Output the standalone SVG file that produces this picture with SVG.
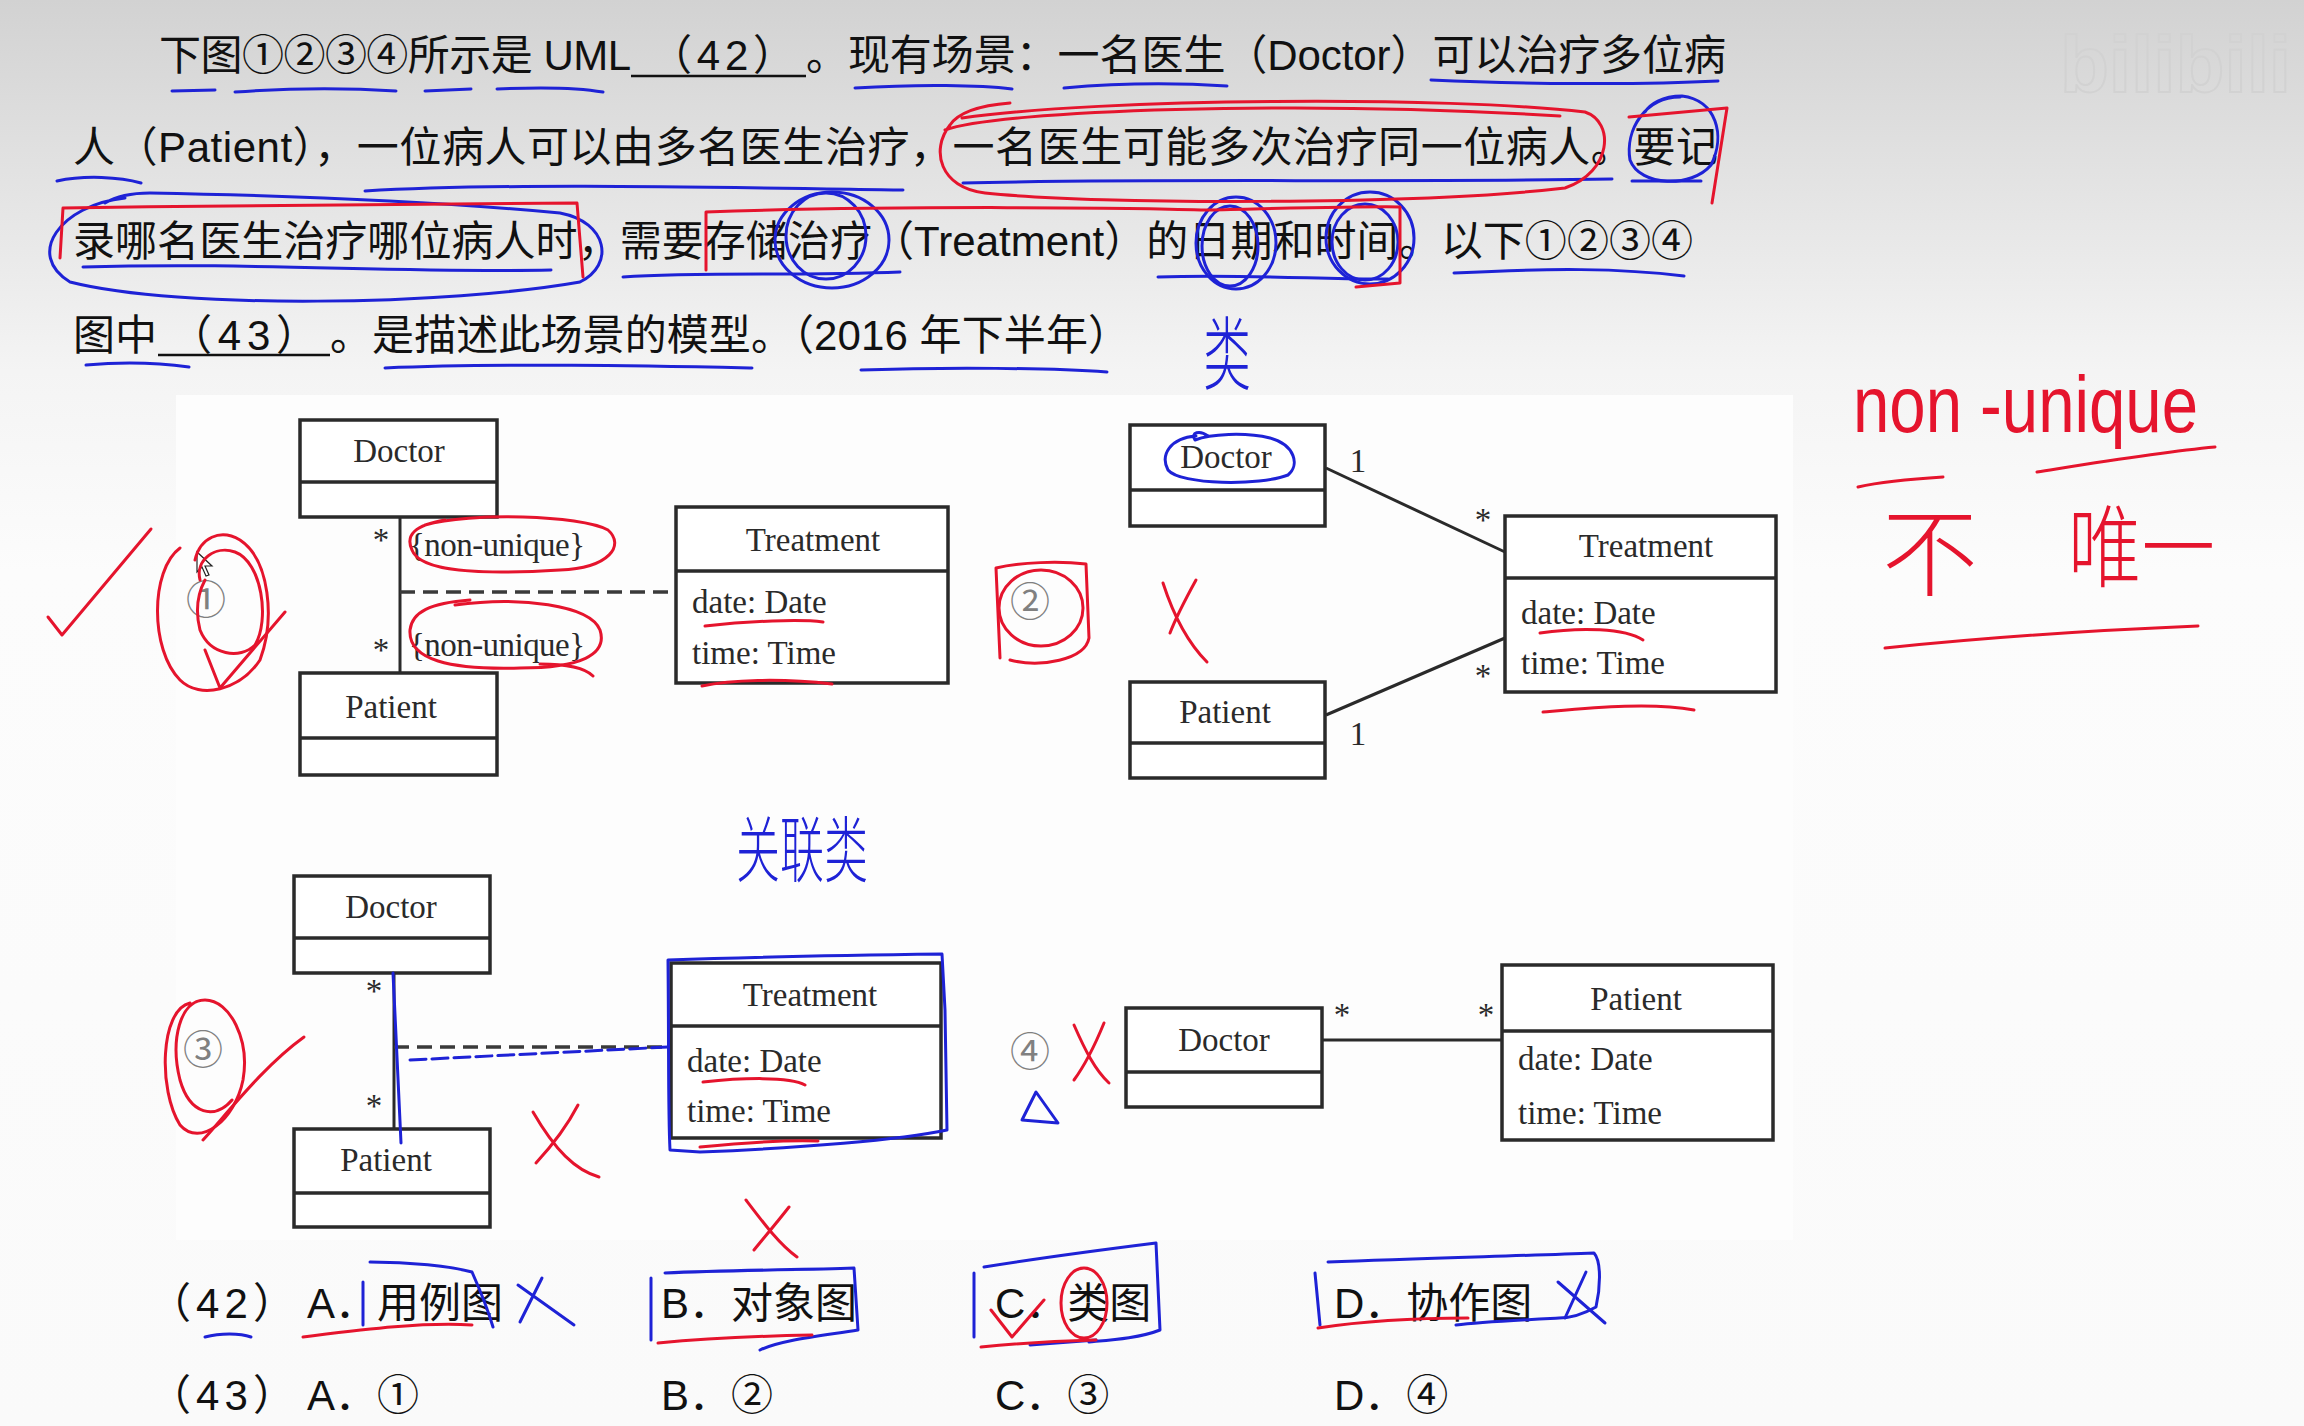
<svg xmlns="http://www.w3.org/2000/svg" width="2304" height="1426" viewBox="0 0 2304 1426">
<defs>
<linearGradient id="bg" x1="0" y1="0" x2="0" y2="1">
<stop offset="0" stop-color="#d2d2d2"/>
<stop offset="0.12" stop-color="#e2e2e2"/>
<stop offset="0.26" stop-color="#f4f4f4"/>
<stop offset="0.4" stop-color="#fcfcfc"/>
<stop offset="1" stop-color="#fafafa"/>
</linearGradient>
<style>
.main{font-family:"Liberation Sans","Noto Sans CJK SC",sans-serif;font-size:42px;fill:#111}
.box{fill:#fff;stroke:#2a2a2a;stroke-width:3.5}
.div{stroke:#2a2a2a;stroke-width:3.5}
.uml{font-family:"Liberation Serif",serif;font-size:33px;fill:#2a2a2a}
.mid{text-anchor:middle}
.edge{stroke:#2a2a2a;stroke-width:3;fill:none}
.dash{stroke:#3a3a3a;stroke-width:3.5;stroke-dasharray:15 8;fill:none}
.num{font-family:"Noto Sans CJK SC",sans-serif;font-size:40px;fill:#808080;text-anchor:middle}
.red{fill:none;stroke:#e5142d;stroke-width:3;stroke-linecap:round;stroke-linejoin:round}
.blue{fill:none;stroke:#1e22d6;stroke-width:3;stroke-linecap:round;stroke-linejoin:round}
.hwr{font-family:"Liberation Sans","Noto Sans CJK SC",sans-serif;fill:#e5142d;font-weight:300}
.hwb{font-family:"Noto Sans CJK SC",sans-serif;fill:#1e22d6;font-weight:300}
.ul{stroke:#111;stroke-width:2.5}
</style>
</defs>
<rect x="0" y="0" width="2304" height="1426" fill="url(#bg)"/>
<rect x="176" y="395" width="1617" height="845" fill="#fdfdfd"/>
<text x="2060" y="92" font-family="Liberation Sans,sans-serif" font-size="80" font-weight="bold" fill="none" stroke="#d2d2d2" stroke-width="2">bilibili</text>

<g id="question">
<text class="main" x="159" y="70" textLength="472">下图①②③④所示是 UML</text>
<line class="ul" x1="631" y1="76" x2="806" y2="76"/>
<text class="main" x="650" y="70" textLength="145">（42）</text>
<text class="main" x="806" y="70" textLength="920">。现有场景：一名医生（Doctor）可以治疗多位病</text>
<text class="main" x="73" y="162" textLength="1645">人（Patient），一位病人可以由多名医生治疗，一名医生可能多次治疗同一位病人。要记</text>
<text class="main" x="73" y="256" textLength="1620">录哪名医生治疗哪位病人时，需要存储治疗（Treatment）的日期和时间。以下①②③④</text>
<text class="main" x="73" y="350" textLength="84">图中</text>
<line class="ul" x1="158" y1="355" x2="330" y2="355"/>
<text class="main" x="170" y="350" textLength="148">（43）</text>
<text class="main" x="330" y="350" textLength="800">。是描述此场景的模型。（2016 年下半年）</text>
</g>

<g id="options">
<text class="main" x="149" y="1318" textLength="146">（42）</text>
<text class="main" x="307" y="1318">A．用例图</text>
<text class="main" x="661" y="1318">B．对象图</text>
<text class="main" x="995" y="1318">C．类图</text>
<text class="main" x="1334" y="1318">D．协作图</text>
<text class="main" x="149" y="1410" textLength="146">（43）</text>
<text class="main" x="307" y="1410">A．①</text>
<text class="main" x="661" y="1410">B．②</text>
<text class="main" x="995" y="1410">C．③</text>
<text class="main" x="1334" y="1410">D．④</text>
</g>

<g id="connectors">
<line class="edge" x1="400" y1="517" x2="400" y2="673"/>
<line class="dash" x1="400" y1="592" x2="676" y2="592"/>
<line class="edge" x1="1326" y1="468" x2="1505" y2="552"/>
<line class="edge" x1="1326" y1="715" x2="1505" y2="638"/>
<line class="edge" x1="394" y1="973" x2="394" y2="1129"/>
<line class="dash" x1="394" y1="1047" x2="671" y2="1047"/>
<line class="edge" x1="1322" y1="1040" x2="1502" y2="1040"/>
</g>

<g id="labels" class="uml">
<text x="381" y="551" class="mid">*</text>
<text x="381" y="661" class="mid">*</text>
<text x="409" y="556" textLength="176">{non-unique}</text>
<text x="409" y="656" textLength="176">{non-unique}</text>
<text x="1358" y="472" class="mid">1</text>
<text x="1483" y="531" class="mid">*</text>
<text x="1483" y="687" class="mid">*</text>
<text x="1358" y="745" class="mid">1</text>
<text x="374" y="1002" class="mid">*</text>
<text x="374" y="1117" class="mid">*</text>
<text x="1342" y="1026" class="mid">*</text>
<text x="1486" y="1026" class="mid">*</text>
</g>

<g id="numbers">
<text class="num" x="206" y="614">①</text>
<text class="num" x="1030" y="616">②</text>
<text class="num" x="203" y="1064">③</text>
<text class="num" x="1030" y="1066">④</text>
</g>

<g id="d1-doctor">
<rect class="box" x="300" y="420" width="197" height="97"/>
<line class="div" x1="300" y1="482" x2="497" y2="482"/>
<text class="uml mid" x="399" y="462">Doctor</text>
</g>
<g id="d1-patient">
<rect class="box" x="300" y="673" width="197" height="102"/>
<line class="div" x1="300" y1="738" x2="497" y2="738"/>
<text class="uml mid" x="391" y="718">Patient</text>
</g>
<g id="d1-treatment">
<rect class="box" x="676" y="507" width="272" height="176"/>
<line class="div" x1="676" y1="571" x2="948" y2="571"/>
<text class="uml mid" x="813" y="551">Treatment</text>
<text class="uml" x="692" y="613">date: Date</text>
<text class="uml" x="692" y="664">time: Time</text>
</g>

<g id="d2-doctor">
<rect class="box" x="1130" y="425" width="195" height="101"/>
<line class="div" x1="1130" y1="490" x2="1325" y2="490"/>
<text class="uml mid" x="1226" y="468">Doctor</text>
</g>
<g id="d2-patient">
<rect class="box" x="1130" y="682" width="195" height="96"/>
<line class="div" x1="1130" y1="743" x2="1325" y2="743"/>
<text class="uml mid" x="1225" y="723">Patient</text>
</g>
<g id="d2-treatment">
<rect class="box" x="1505" y="516" width="271" height="176"/>
<line class="div" x1="1505" y1="578" x2="1776" y2="578"/>
<text class="uml mid" x="1646" y="557">Treatment</text>
<text class="uml" x="1521" y="624">date: Date</text>
<text class="uml" x="1521" y="674">time: Time</text>
</g>

<g id="d3-doctor">
<rect class="box" x="294" y="876" width="196" height="97"/>
<line class="div" x1="294" y1="938" x2="490" y2="938"/>
<text class="uml mid" x="391" y="918">Doctor</text>
</g>
<g id="d3-patient">
<rect class="box" x="294" y="1129" width="196" height="98"/>
<line class="div" x1="294" y1="1193" x2="490" y2="1193"/>
<text class="uml mid" x="386" y="1171">Patient</text>
</g>
<g id="d3-treatment">
<rect class="box" x="671" y="963" width="270" height="175"/>
<line class="div" x1="671" y1="1026" x2="941" y2="1026"/>
<text class="uml mid" x="810" y="1006">Treatment</text>
<text class="uml" x="687" y="1072">date: Date</text>
<text class="uml" x="687" y="1122">time: Time</text>
</g>

<g id="d4-doctor">
<rect class="box" x="1126" y="1008" width="196" height="99"/>
<line class="div" x1="1126" y1="1072" x2="1322" y2="1072"/>
<text class="uml mid" x="1224" y="1051">Doctor</text>
</g>
<g id="d4-patient">
<rect class="box" x="1502" y="965" width="271" height="175"/>
<line class="div" x1="1502" y1="1031" x2="1773" y2="1031"/>
<text class="uml mid" x="1636" y="1010">Patient</text>
<text class="uml" x="1518" y="1070">date: Date</text>
<text class="uml" x="1518" y="1124">time: Time</text>
</g>

<path d="M197,552 L197,572 L202,567 L206,576 L209,575 L205,566 L212,566 Z" fill="#fff" stroke="#222" stroke-width="1.2"/>

<g id="annotations-blue" class="blue">
<path d="M172,91 L215,90 M235,92 C290,88 350,88 396,91 M425,91 L471,89 M497,89 C540,87 580,88 603,92 M855,88 C920,84 980,85 1012,89 M1064,88 C1120,83 1180,83 1227,86 M1431,80 C1520,84 1640,85 1718,81"/>
<path d="M57,181 C85,175 120,177 141,183 M365,191 C500,183 700,187 903,190 M963,183 C1150,178 1400,183 1612,179 M1632,181 L1701,181"/>
<path d="M1680,97 C1645,97 1625,130 1630,160 C1640,187 1692,188 1711,165 C1726,135 1716,100 1682,96 C1662,96 1650,104 1645,112"/>
<path d="M125,198 C60,205 25,255 70,282 C180,310 450,305 580,282 C615,265 608,222 560,213 C420,200 260,195 150,193 C130,193 115,197 105,203"/>
<path d="M83,267 C250,262 400,273 551,270 M623,277 C700,272 800,276 900,272 M1158,277 C1250,274 1330,280 1388,279 M1454,273 C1550,268 1620,268 1684,276"/>
<ellipse cx="832" cy="240" rx="57" ry="48"/>
<ellipse cx="826" cy="236" rx="40" ry="43"/>
<ellipse cx="1236" cy="243" rx="40" ry="46"/>
<ellipse cx="1230" cy="246" rx="28" ry="40"/>
<ellipse cx="1370" cy="238" rx="44" ry="46"/>
<ellipse cx="1365" cy="242" rx="33" ry="38"/>
<path d="M86,365 C120,362 160,363 189,367 M385,368 C500,363 650,366 752,368 M861,370 C950,367 1050,368 1107,372"/>
<path d="M1196,436 C1170,438 1160,455 1168,470 C1180,485 1260,486 1288,475 C1300,465 1295,445 1270,438 C1245,432 1210,434 1195,440 C1190,432 1200,430 1208,436"/>
<path d="M668,960 C750,957 860,955 942,954 L945,1010 L947,1130 C900,1140 800,1148 700,1152 L670,1150 C668,1110 669,1060 668,960"/>
<path d="M393,973 C396,1030 398,1090 401,1143"/>
<path d="M410,1060 L668,1047" stroke-dasharray="16 6"/>
<path d="M1036,1092 L1022,1120 L1058,1123 Z"/>
<path d="M205,1337 C220,1333 240,1333 251,1337"/>
<path d="M363,1282 L363,1325 M370,1262 C410,1262 450,1266 472,1272 C480,1290 488,1310 493,1327"/>
<path d="M518,1285 L574,1325 M542,1278 L520,1322"/>
<path d="M651,1278 L651,1340 M665,1273 C730,1270 800,1270 854,1268 L858,1330 C820,1336 780,1340 760,1350"/>
<path d="M974,1273 L974,1337 M984,1267 C1040,1258 1100,1250 1156,1243 L1160,1330 C1140,1338 1110,1340 1089,1342 M1030,1345 L1096,1340"/>
<path d="M1315,1273 L1320,1325 M1328,1262 C1420,1258 1520,1256 1594,1253 C1602,1262 1600,1290 1596,1307 C1580,1316 1570,1318 1559,1318 C1520,1320 1480,1322 1456,1325"/>
<path d="M1558,1282 L1605,1323 M1586,1272 L1565,1318"/>
</g>
<text class="hwb" x="1203" y="383" font-size="80" textLength="48" lengthAdjust="spacingAndGlyphs">类</text>
<text class="hwb" x="736" y="876" font-size="72" textLength="132" lengthAdjust="spacingAndGlyphs">关联类</text>

<g id="annotations-red" class="red">
<path d="M962,118 C1100,98 1450,96 1585,112 C1615,122 1612,172 1565,188 C1420,205 1100,205 985,193 C940,188 930,150 950,125 C960,110 985,105 1010,103 M945,130 C1000,110 1300,100 1560,116"/>
<path d="M1629,117 L1727,108 L1712,203"/>
<path d="M60,258 L63,208 C250,205 450,203 577,203 L583,277"/>
<path d="M706,270 L706,212 C900,205 1150,208 1201,210 C1300,208 1380,206 1400,207 L1400,283 L1356,287"/>
<path d="M48,617 L62,635 L151,529"/>
<path d="M180,548 C150,570 150,650 180,680 C200,700 240,690 260,660 C275,620 270,560 240,540 C220,528 200,538 195,560"/>
<path d="M200,580 C195,560 215,545 235,552 C262,562 270,620 255,645 C240,660 210,655 200,630 C195,610 197,595 205,580"/>
<path d="M205,650 L220,688 L285,612"/>
<path d="M425,525 C470,512 580,515 608,530 C625,545 610,568 560,570 C480,575 420,572 412,550 C405,535 415,525 445,520"/>
<path d="M455,605 C520,596 590,605 600,630 C608,655 580,668 520,668 C450,670 408,660 410,630 C412,612 430,603 470,600 M540,664 C565,664 585,668 593,676"/>
<path d="M705,626 C750,621 800,619 823,622 M702,686 C730,680 780,678 832,684"/>
<path d="M1000,658 L996,568 C1020,562 1060,561 1086,564 L1089,638 C1085,660 1040,668 1010,660"/>
<ellipse cx="1041" cy="608" rx="42" ry="38"/>
<path d="M1163,583 C1175,620 1190,645 1207,662 M1196,580 C1185,600 1175,620 1170,633"/>
<path d="M1540,633 C1580,627 1625,628 1643,640 M1543,712 C1590,708 1650,702 1694,710"/>
<path d="M190,1003 C160,1010 158,1090 180,1125 C200,1148 235,1120 243,1080 C250,1040 230,1000 205,1000 C180,1000 170,1040 180,1080 C190,1115 215,1120 232,1100"/>
<path d="M203,1140 C230,1110 265,1065 304,1037"/>
<path d="M533,1112 C555,1150 575,1170 599,1177 M578,1105 C565,1130 548,1150 536,1163"/>
<path d="M703,1082 C740,1078 790,1076 805,1085 M700,1147 C740,1143 790,1140 818,1141"/>
<path d="M746,1200 C765,1225 780,1245 797,1257 M789,1207 C775,1225 762,1240 754,1250"/>
<path d="M1074,1025 C1085,1050 1095,1070 1109,1083 M1104,1023 C1095,1045 1085,1065 1074,1080"/>
<path d="M303,1337 C360,1330 420,1322 472,1325"/>
<path d="M658,1343 C710,1338 760,1336 812,1335"/>
<path d="M991,1310 L1012,1337 L1044,1300"/>
<ellipse cx="1084" cy="1303" rx="23" ry="35"/>
<path d="M981,1347 C1020,1343 1060,1341 1096,1340"/>
<path d="M1318,1328 C1370,1320 1420,1318 1468,1318"/>
<path d="M1858,487 C1880,482 1910,479 1943,477 M2037,472 C2100,462 2160,452 2215,447 M1885,648 C2000,636 2100,630 2198,626"/>
</g>
<text class="hwr" x="1853" y="432" font-size="80" textLength="345" lengthAdjust="spacingAndGlyphs">non -unique</text>
<text class="hwr" x="1882" y="588" font-size="96">不</text>
<text class="hwr" x="2068" y="580" font-size="90" textLength="147" lengthAdjust="spacingAndGlyphs">唯一</text>
</svg>
